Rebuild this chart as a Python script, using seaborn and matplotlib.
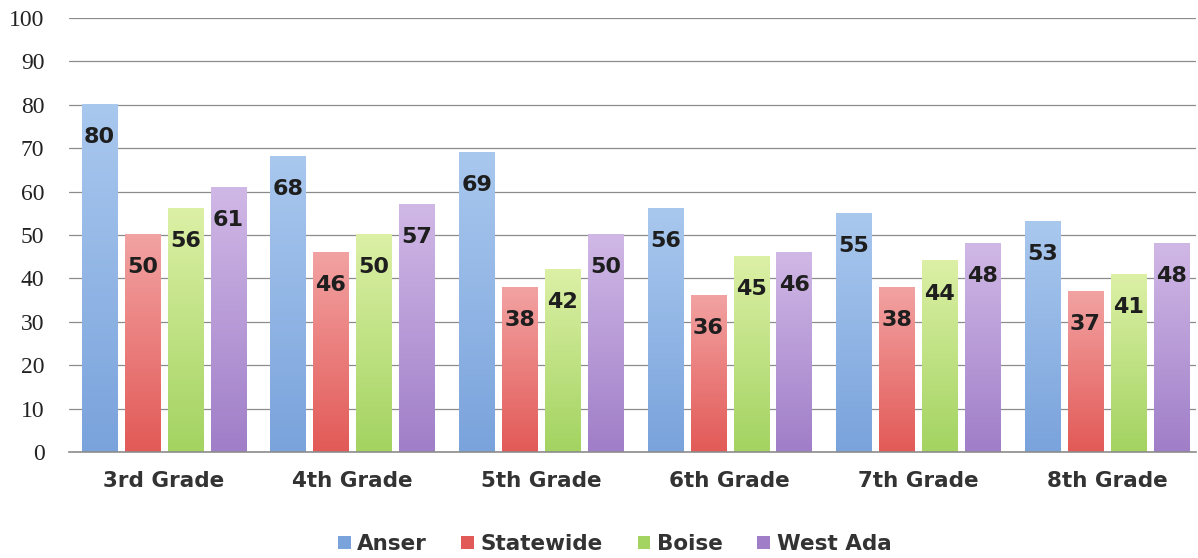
import matplotlib
matplotlib.use('Agg')
import matplotlib.pyplot as plt
from matplotlib.colors import LinearSegmentedColormap
import numpy as np
import pandas as pd
import seaborn as sns

grades = ['3rd Grade', '4th Grade', '5th Grade', '6th Grade', '7th Grade', '8th Grade']
series = ['Anser', 'Statewide', 'Boise', 'West Ada']
anser = [80, 68, 69, 56, 55, 53]
statewide = [50, 46, 38, 36, 38, 37]
boise = [56, 50, 42, 45, 44, 41]
west_ada = [61, 57, 50, 46, 48, 48]

# (top, bottom) of the vertical gradient for each series
colors = {
    'Anser': ('#a9c8ee', '#7aa3dc'),
    'Statewide': ('#f2a2a2', '#e25a57'),
    'Boise': ('#dcf0a6', '#a3d361'),
    'West Ada': ('#d0b8e6', '#a07ec8'),
}

df = pd.DataFrame({
    'grade': grades * 4,
    'series': [s for s in series for _ in grades],
    'value': anser + statewide + boise + west_ada,
})

sns.set_style('white')
fig, ax = plt.subplots(figsize=(11.98, 5.58), dpi=100)
fig.subplots_adjust(left=0.058, right=0.998, top=0.968, bottom=0.19)

palette = {s: colors[s][1] for s in series}
sns.barplot(data=df, x='grade', y='value', hue='series', palette=palette,
            width=0.91, dodge=True, ax=ax, legend=False, saturation=1)

# gradient fill + shrink bars inside each slot
grad = np.linspace(0, 1, 256).reshape(-1, 1)
for container, s in zip(ax.containers, series):
    cmap = LinearSegmentedColormap.from_list(s, [colors[s][1], colors[s][0]])
    for bar, val in zip(container, df[df.series == s].value):
        w = bar.get_width()
        x0 = bar.get_x() + w * 0.09
        nw = w * 0.82
        bar.set_visible(False)
        ax.imshow(grad, cmap=cmap, origin='lower', aspect='auto',
                  extent=(x0, x0 + nw, 0, val), zorder=2)
        ax.text(x0 + nw / 2, val - 7.5, str(val), ha='center', va='center',
                fontsize=16, fontweight='bold', family='DejaVu Sans',
                color='#1e1e1e', zorder=4)
ax.set_xlim(-0.5, 5.47)
ax.set_ylim(0, 100)

ax.set_yticks(range(0, 101, 10))
ax.yaxis.grid(True, color='#8c8c8c', linewidth=0.9)
ax.set_axisbelow(True)
for sp in ['top', 'right', 'left']:
    ax.spines[sp].set_visible(False)
ax.spines['bottom'].set_color('#8c8c8c')
ax.spines['bottom'].set_linewidth(1.2)
ax.tick_params(axis='both', length=0)
ax.tick_params(axis='x', pad=14)
ax.tick_params(axis='y', pad=18)
for lbl in ax.get_yticklabels():
    lbl.set_family('Liberation Serif')
    lbl.set_fontsize(17)
    lbl.set_color('#222222')
for lbl in ax.get_xticklabels():
    lbl.set_family('DejaVu Sans')
    lbl.set_fontweight('bold')
    lbl.set_fontsize(15.5)
    lbl.set_color('#333333')
ax.set_xlabel('')
ax.set_ylabel('')

handles = [plt.Rectangle((0, 0), 1, 1, facecolor=colors[s][1], edgecolor='none') for s in series]
leg = fig.legend(handles, series, loc='lower center', ncol=4, frameon=False,
                 bbox_to_anchor=(0.513, -0.028), handlelength=0.6, handleheight=0.6,
                 handletextpad=0.3, columnspacing=1.6,
                 prop={'family': 'DejaVu Sans', 'weight': 'bold', 'size': 15.5})
for t in leg.get_texts():
    t.set_color('#333333')

fig.savefig('out.png', dpi=100)
